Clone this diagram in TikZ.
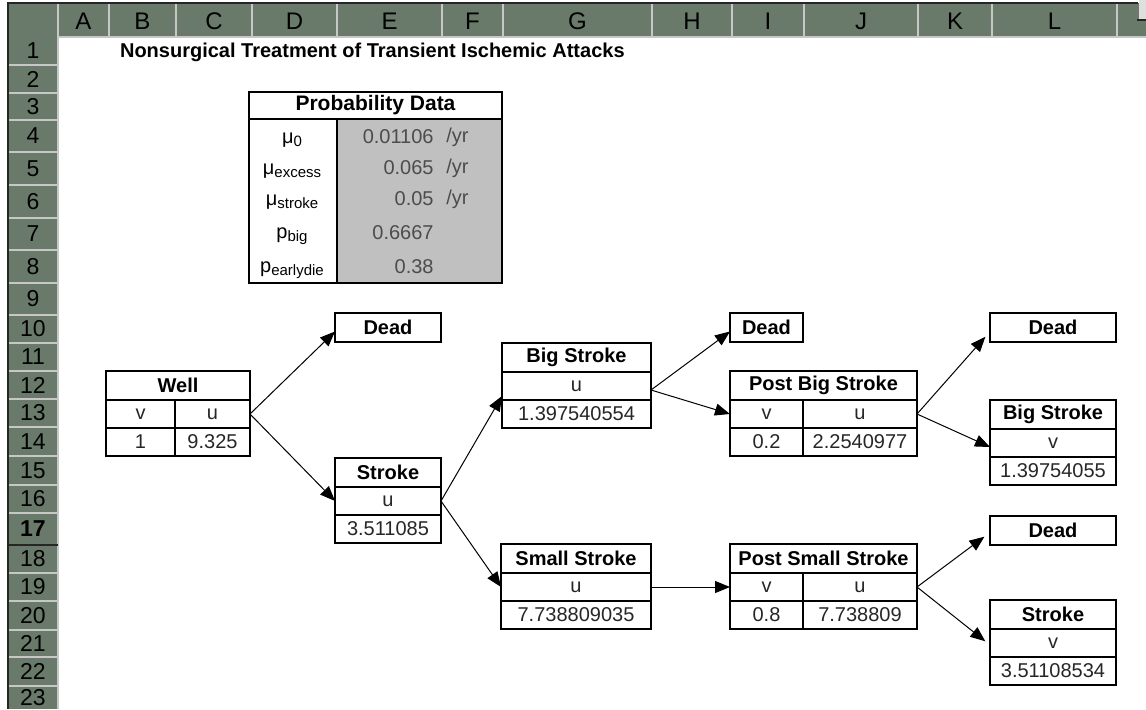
\documentclass[tikz,border=0pt]{standalone}
\usepackage{fontspec}
\setmainfont{Liberation Sans}
\usetikzlibrary{arrows.meta,positioning}
\definecolor{hdrgreen}{RGB}{106,122,106}
\definecolor{cellgray}{RGB}{192,192,192}
\newcommand{\probsym}[2]{{\fontsize{10}{11}\selectfont #1}\raisebox{-1.8pt}{\fontsize{7.5}{8}\selectfont #2}}

\begin{document}
\begin{tikzpicture}[x=0.5pt,y=-0.5pt,
  cell/.style={draw, line width=.6pt, inner sep=0pt, outer sep=0pt, anchor=north west,
    minimum height=14pt, font=\fontsize{10}{12}\selectfont, text=black!85},
  hdr/.style={cell, minimum height=14.5pt, font=\fontsize{10}{12}\selectfont\bfseries, text=black},
  outline/.style={line width=1.1pt},
  arr/.style={line width=.5pt, -{Triangle[length=7.5pt,width=6pt]}},
  sepline/.style={white!78!black, line width=.6pt},
  valtext/.style={inner sep=0pt, font=\fontsize{10}{12}\selectfont, text=black!70},
  collbl/.style={font=\fontsize{12}{14}\selectfont},
  rowlbl/.style={font=\fontsize{11.5}{13}\selectfont}]
   \useasboundingbox (0,0) rectangle (1146,709);
   \fill[hdrgreen] (8,3) rectangle (1146,37);
   \fill[hdrgreen] (8,37) rectangle (58,709);
   \foreach \xx in {58,109,176,252,337,442,503,652,732,804,918,992,1117}
     \draw[sepline] (\xx,4) -- (\xx,37);
   \draw[sepline] (58,37) -- (1146,37);
   \draw[sepline] (58,37) -- (58,709);
   \foreach \yy in {65,93,120,152,185,218,250,283,315,343,371,399,427,456,485,513,573,601,630,657,686}
     \draw[sepline] (8,\yy) -- (58,\yy);
   \draw[black!85, line width=.8pt] (8,545) -- (58,545);
   \draw[black!85, line width=.8pt] (8,709) -- (8,3) -- (1138,3);
   \fill[gray!25] (1139,0) rectangle (1146,19);
   \draw[black!85, line width=.8pt] (1137,20) -- (1146,20);
   \foreach \c/\xx in {A/83.5,B/142.5,C/214,D/294.5,E/389.5,F/472.5,G/577.5,H/692,I/768,J/861,K/955,L/1054.5}
     \node[collbl] (col\c) at (\xx,21) {\c};
   \foreach \r/\yy in {1/51,2/79,3/106.5,4/136,5/168.5,6/201.5,7/234,8/266.5,9/299,10/329,11/357,
     12/385,13/413,14/441.5,15/470.5,16/499,18/559,19/587,20/615.5,21/643.5,22/671.5,23/698}
     \node[rowlbl] (row\r) at (33,\yy) {\r};
   \node[rowlbl, font=\fontsize{11.5}{13}\selectfont\bfseries] (row17) at (33,529) {17};

   \node[anchor=base west, font=\fontsize{10}{12}\selectfont\bfseries] (title) at (113,57)
     {Nonsurgical Treatment of Transient Ischemic Attacks};

   \fill[cellgray] (337,119) rectangle (502,283);
   \node[font=\fontsize{10.5}{12}\selectfont\bfseries] (probtitle) at (375.5,105.5) {Probability Data};
   \draw[line width=.6pt] (249,119) -- (502,119) (337,119) -- (337,283);
   \draw[outline] (249,92) rectangle (502,283);
   \foreach \yy/\lbl/\val [count=\i] in {137/{\probsym{μ}{0}}/0.01106, 168/{\probsym{μ}{excess}}/0.065,
     199/{\probsym{μ}{stroke}}/0.05, 233/{\probsym{p}{big}}/0.6667, 267/{\probsym{p}{earlydie}}/0.38}
   {
     \node (lbl\i) at (292,\yy+3) {\lbl};
     \node[valtext, anchor=east] (val\i) at (434,\yy) {\val};
   }
   \foreach \i in {1,2,3}
     \node[valtext, anchor=west, xshift=6pt] (unit\i) at (val\i.east) {/yr};

   \foreach \nm/\xx/\yy/\ww/\ttl/\sym/\val in {
     stroke/335/458/106/Stroke/u/3.511085,
     big/502/343/149/Big Stroke/u/1.397540554,
     small/501/544/150/Small Stroke/u/7.738809035,
     bigr/990/400/126/Big Stroke/v/1.39754055,
     stroker/990/600/126/Stroke/v/3.51108534}
   {
     \node[hdr, minimum width=\ww*0.5pt] (\nm) at (\xx,\yy) {\ttl};
     \node[cell, minimum width=\ww*0.5pt] (\nm-s) at (\nm.south west) {\sym};
     \node[cell, minimum width=\ww*0.5pt] (\nm-v) at (\nm-s.south west) {\val};
     \draw[outline] (\nm.north west) rectangle (\nm-v.south east);
   }
   \foreach \nm/\xx/\yy/\ww/\dv/\ttl/\lv/\rv in {
     well/106/371/144/69/Well/1/9.325,
     postbig/730/371/187/73/Post Big Stroke/0.2/2.2540977,
     postsmall/730/544/187/73/Post Small Stroke/0.8/7.738809}
   {
     \node[hdr, minimum width=\ww*0.5pt] (\nm) at (\xx,\yy) {\ttl};
     \node[cell, minimum width=\dv*0.5pt] (\nm-v) at (\nm.south west) {v};
     \node[cell, minimum width=(\ww-\dv)*0.5pt] (\nm-u) at (\nm-v.north east) {u};
     \node[cell, minimum width=\dv*0.5pt] (\nm-a) at (\nm-v.south west) {\lv};
     \node[cell, minimum width=(\ww-\dv)*0.5pt] (\nm-b) at (\nm-a.north east) {\rv};
     \draw[outline] (\nm.north west) rectangle (\nm-b.south east);
   }
   \foreach \nm/\xx/\yy/\ww in {dead1/335/313/106, dead2/730/313/73, dead3/990/313/126, dead4/990/516/126}
     \node[hdr, line width=1.1pt, minimum width=\ww*0.5pt] (\nm) at (\xx,\yy) {Dead};

   \draw[arr] (well-u.east) -- ([yshift=-2pt]dead1.west);
   \draw[arr] (well-u.east) -- (stroke-s.west);
   \draw[arr] (stroke-s.east) -- ([yshift=2pt]big-s.south west);
   \draw[arr] (stroke-s.east) -- (small-s.west);
   \draw[arr] ([yshift=-2pt]big-s.east) -- ([yshift=-2pt]dead2.west);
   \draw[arr] ([yshift=-2pt]big-s.east) -- (postbig-v.west);
   \draw[arr] (small-s.east) -- (postsmall-v.west);
   \draw[arr, shorten >=3.5pt] (postbig-u.east) -- ([yshift=-2pt]dead3.west);
   \draw[arr] (postbig-u.east) -- ([yshift=-2pt]bigr-s.west);
   \draw[arr, shorten >=3.5pt] (postsmall-u.east) -- ([yshift=-1pt]dead4.west);
   \draw[arr, shorten >=3pt] (postsmall-u.east) -- ([yshift=-1pt]stroker-s.west);
  \end{tikzpicture}
\end{document}
